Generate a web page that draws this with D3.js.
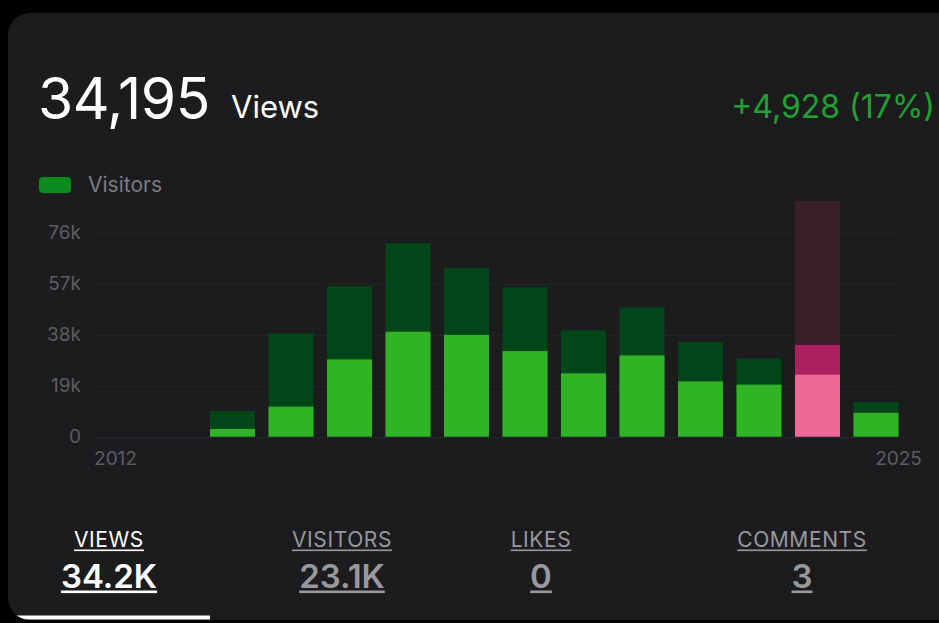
<!DOCTYPE html>
<html>
<head>
<meta charset="utf-8">
<script src="https://cdn.jsdelivr.net/npm/d3@7"></script>
<style>
  html, body { margin: 0; padding: 0; background: #000; }
  svg { display: block; font-family: Inter, "Noto Sans", sans-serif; }
</style>
</head>
<body>
<svg id="chart" width="939" height="623"></svg>
<script>
// ---- data ----
const years = [2012, 2013, 2014, 2015, 2016, 2017, 2018, 2019, 2020, 2021, 2022, 2023, 2024, 2025];
const views = [0, 0, 9600, 38500, 56100, 72100, 62900, 55700, 39600, 48200, 35300, 29100, 34195, 12900];
const visitors = [0, 0, 2900, 11200, 28800, 39100, 37900, 31900, 23600, 30300, 20600, 19400, 23100, 8900];
const selectedYear = 2024;
const yTickValues = [0, 19000, 38000, 57000, 76000];
const yTickLabels = ["0", "19k", "38k", "57k", "76k"];
const yTop = 87800;
const headerTotal = "34,195";
const headerUnit = "Views";
const headerChange = "+4,928 (17%)";
const legendLabel = "Visitors";
const statLabels = ["VIEWS", "VISITORS", "LIKES", "COMMENTS"];
const statValues = ["34.2K", "23.1K", "0", "3"];

// ---- drawing ----
const svg = d3.select("#chart");
const defs = svg.append("defs");
defs.append("clipPath").attr("id", "cardClip")
  .append("rect").attr("x", 8).attr("y", 13).attr("width", 980).attr("height", 607).attr("rx", 22);

svg.append("rect").attr("x", 8).attr("y", 13).attr("width", 980).attr("height", 607)
  .attr("rx", 22).attr("fill", "#1c1c1e");

// header
svg.append("text").attr("x", 38).attr("y", 119).attr("fill", "#ffffff")
  .attr("font-size", 57).attr("font-weight", 400).attr("letter-spacing", -0.5).text(headerTotal);
svg.append("text").attr("x", 231).attr("y", 118).attr("fill", "#ffffff")
  .attr("font-size", 31).attr("font-weight", 400).text(headerUnit);
svg.append("text").attr("x", 935).attr("y", 118).attr("fill", "#21a033")
  .attr("text-anchor", "end").attr("font-size", 32).attr("font-weight", 400).text(headerChange);

// legend
svg.append("rect").attr("x", 39).attr("y", 177).attr("width", 32).attr("height", 16)
  .attr("rx", 4).attr("fill", "#0b8a1e");
svg.append("text").attr("x", 88).attr("y", 192).attr("fill", "#7c7c81")
  .attr("font-size", 21).text(legendLabel);

// scales
const x = d3.scaleBand().domain(years).range([86.25, 905.25]).paddingInner(0.23).paddingOuter(0.115);
const y = d3.scaleLinear().domain([0, yTop]).range([436.7, 201]);
const gx0 = x(years[0]);
const gx1 = x(years[years.length - 1]) + x.bandwidth();

// gridlines
svg.append("g").selectAll("line").data(yTickValues).join("line")
  .attr("x1", gx0).attr("x2", gx1)
  .attr("y1", d => Math.round(y(d)) + 0.5).attr("y2", d => Math.round(y(d)) + 0.5)
  .attr("stroke", d => d === 0 ? "#27282d" : "#232428").attr("stroke-width", 1);

// y axis labels
const yAxis = d3.axisLeft(y).tickValues(yTickValues)
  .tickFormat((d, i) => yTickLabels[i]).tickSize(0).tickPadding(12);
const ya = svg.append("g").attr("transform", `translate(${gx0},0)`).call(yAxis);
ya.select(".domain").remove();
ya.selectAll("text").attr("fill", "#5d5d62").attr("font-size", 19).attr("font-family", "Inter, 'Noto Sans', sans-serif");

// bars
const rows = years.map((yr, i) => ({ year: yr, views: views[i], visitors: visitors[i] }));
const sel = rows.find(d => d.year === selectedYear);
svg.append("rect")
  .attr("x", x(sel.year)).attr("width", x.bandwidth())
  .attr("y", y(yTop)).attr("height", y(0) - y(yTop))
  .attr("fill", "#391f2a");

const barG = svg.append("g");
barG.selectAll("rect.views").data(rows.filter(d => d.views > 0)).join("rect")
  .attr("class", "views")
  .attr("x", d => x(d.year)).attr("width", x.bandwidth())
  .attr("y", d => y(d.views)).attr("height", d => y(0) - y(d.views))
  .attr("fill", d => d.year === selectedYear ? "#ad2060" : "#004618");
barG.selectAll("rect.visitors").data(rows.filter(d => d.visitors > 0)).join("rect")
  .attr("class", "visitors")
  .attr("x", d => x(d.year)).attr("width", x.bandwidth())
  .attr("y", d => y(d.visitors)).attr("height", d => y(0) - y(d.visitors))
  .attr("fill", d => d.year === selectedYear ? "#eb6897" : "#30b324");

// x labels (first & last)
const first = years[0], last = years[years.length - 1];
svg.append("text").attr("x", x(first) + x.bandwidth() / 2).attr("y", 465)
  .attr("text-anchor", "middle").attr("fill", "#5d5d62").attr("font-size", 19).text(first);
svg.append("text").attr("x", x(last) + x.bandwidth()).attr("y", 465)
  .attr("text-anchor", "middle").attr("fill", "#5d5d62").attr("font-size", 19).text(last);

// stats row
const statX = [109, 342, 541, 802];
statLabels.forEach((lab, i) => {
  const col = i === 0 ? "#ffffff" : "#98989d";
  const t1 = svg.append("text").attr("x", statX[i]).attr("y", 547).attr("text-anchor", "middle")
    .attr("fill", col).attr("font-size", 21).attr("letter-spacing", 0.6).attr("font-weight", 400).text(lab);
  const w1 = t1.node().getBBox().width;
  svg.append("rect").attr("x", statX[i] - w1 / 2).attr("y", 549.5).attr("width", w1).attr("height", 1.6).attr("fill", col);
  const t2 = svg.append("text").attr("x", statX[i]).attr("y", 588).attr("text-anchor", "middle")
    .attr("fill", col).attr("font-size", 33).attr("font-weight", 600).text(statValues[i]);
  const w2 = t2.node().getBBox().width;
  svg.append("rect").attr("x", statX[i] - w2 / 2).attr("y", 590.5).attr("width", w2).attr("height", 2.6).attr("fill", col);
});

// selected tab indicator
svg.append("rect").attr("x", 8).attr("y", 615.5).attr("width", 202).attr("height", 4)
  .attr("fill", "#ffffff").attr("clip-path", "url(#cardClip)");
</script>
</body>
</html>
